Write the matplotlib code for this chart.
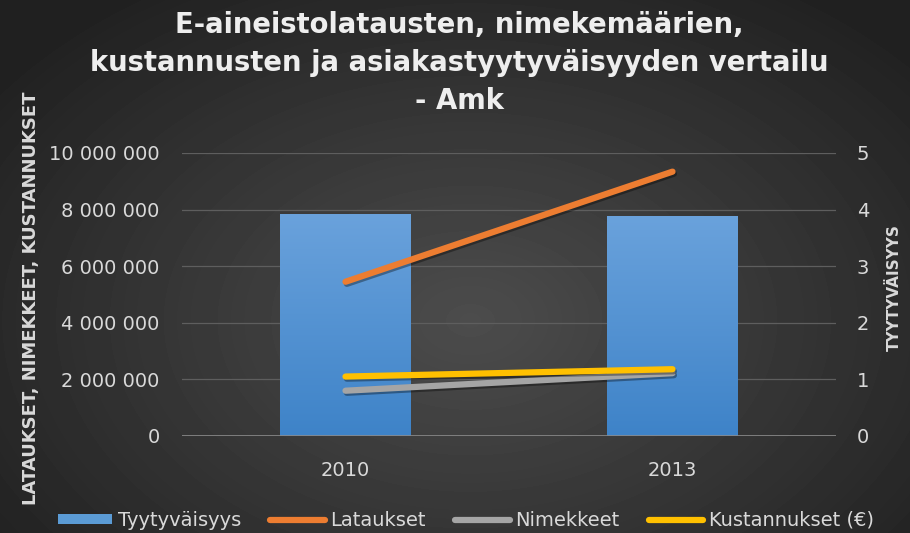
import numpy as np
import matplotlib
matplotlib.use("Agg")
import matplotlib.pyplot as plt
import matplotlib.patheffects as pe

# ===== Data =====
years = ["2010", "2013"]
tyytyvaisyys = [3.93, 3.89]
lataukset = [5450000, 9340000]
nimekkeet = [1600000, 2220000]
kustannukset = [2100000, 2360000]

left_ticks = [0, 2000000, 4000000, 6000000, 8000000, 10000000]
left_ticklabels = ["0", "2 000 000", "4 000 000", "6 000 000", "8 000 000", "10 000 000"]
right_ticks = [0, 1, 2, 3, 4, 5]

title = "E-aineistolatausten, nimekemäärien,\nkustannusten ja asiakastyytyväisyyden vertailu\n- Amk"
legend_labels = ["Tyytyväisyys", "Lataukset", "Nimekkeet", "Kustannukset (€)"]

txt = "#d9d9d9"
plt.rcParams["font.family"] = "DejaVu Sans"

fig = plt.figure(figsize=(9.1, 5.33), dpi=100)

# ===== Background (dark radial gradient) =====
bg = fig.add_axes([0, 0, 1, 1])
bg.set_zorder(-10)
yy, xx = np.mgrid[0:533, 0:910]
r = np.sqrt(((xx - 470) / 620.0) ** 2 + ((yy - 320) / 420.0) ** 2)
shade = np.clip(0.30 - 0.18 * r, 0.13, 0.30)
bg.imshow(shade, cmap="gray", vmin=0, vmax=1, aspect="auto", extent=[0, 1, 0, 1])
bg.axis("off")

# ===== Bars (satisfaction, right axis) =====
ax = fig.add_axes([0.2, 0.182, 0.7187, 0.531])
ax.patch.set_alpha(0)
ax2 = ax.twinx()

x = np.arange(len(years))
bars = ax.bar(x, tyytyvaisyys, width=0.4, color="#5b9bd5", zorder=2)
grad = np.linspace(0, 1, 256).reshape(-1, 1)
bar_cmap = matplotlib.colors.LinearSegmentedColormap.from_list("bl", ["#3e83c8", "#6aa2dc"])
for b in bars:
    im = ax.imshow(grad, cmap=bar_cmap, origin="lower", aspect="auto",
                   extent=[b.get_x(), b.get_x() + b.get_width(), 0, b.get_height()], zorder=2)
    im.set_clip_path(b)
ax.set_xlim(-0.5, 1.5)
ax.set_ylim(0, 5)
ax.set_yticks(right_ticks)
ax.yaxis.tick_right()
ax.grid(axis="y", color="#5e5e5e", linewidth=0.9, zorder=0)
ax.set_axisbelow(True)
for s in ax.spines.values():
    s.set_visible(False)
ax.axhline(0, color="#8a8a8a", linewidth=1.2, zorder=3)
ax.set_xticks(x)
ax.set_xticklabels(years)
ax.tick_params(length=0, colors=txt, labelsize=14)
ax.tick_params(axis="x", pad=18)
ax.tick_params(axis="y", pad=15)

# ===== Lines (left axis) =====
ax2.yaxis.tick_left()
shadow = [pe.SimpleLineShadow(offset=(1, -1.5), shadow_color="black", alpha=0.35), pe.Normal()]
ax2.plot(x, lataukset, color="#ed7d31", linewidth=4.5, solid_capstyle="round", path_effects=shadow)
ax2.plot(x, nimekkeet, color="#a5a5a5", linewidth=4.5, solid_capstyle="round", path_effects=shadow)
ax2.plot(x, kustannukset, color="#ffc000", linewidth=4.5, solid_capstyle="round", path_effects=shadow)
ax2.set_ylim(0, 10000000)
ax2.set_yticks(left_ticks)
ax2.set_yticklabels(left_ticklabels)
ax2.tick_params(length=0, colors=txt, labelsize=14, pad=16)
for s in ax2.spines.values():
    s.set_visible(False)

# ===== Axis titles =====
fig.text(31 / 910, 1 - 298 / 533, "LATAUKSET, NIMEKKEET, KUSTANNUKSET", rotation=90,
         ha="center", va="center", color=txt, fontsize=13, fontweight="bold")
fig.text(894 / 910, 1 - 288 / 533, "TYYTYVÄISYYS", rotation=90,
         ha="center", va="center", color=txt, fontsize=11, fontweight="bold")

# ===== Title =====
fig.text(0.505, 0.882, title, ha="center", va="center", color="#eeeeee",
         fontsize=19.8, fontweight="bold", linespacing=1.45)

# ===== Legend =====
handles = [bars, ax2.lines[0], ax2.lines[1], ax2.lines[2]]
leg = fig.legend(handles, legend_labels, loc="center", bbox_to_anchor=(0.512, 0.024), ncol=4,
                 frameon=False, fontsize=14, handlelength=2.8, handleheight=0.45,
                 columnspacing=1.5, handletextpad=0.3)
for t in leg.get_texts():
    t.set_color(txt)
for h in leg.legend_handles[1:]:
    h.set_path_effects([])

fig.savefig("out.png", dpi=100)
